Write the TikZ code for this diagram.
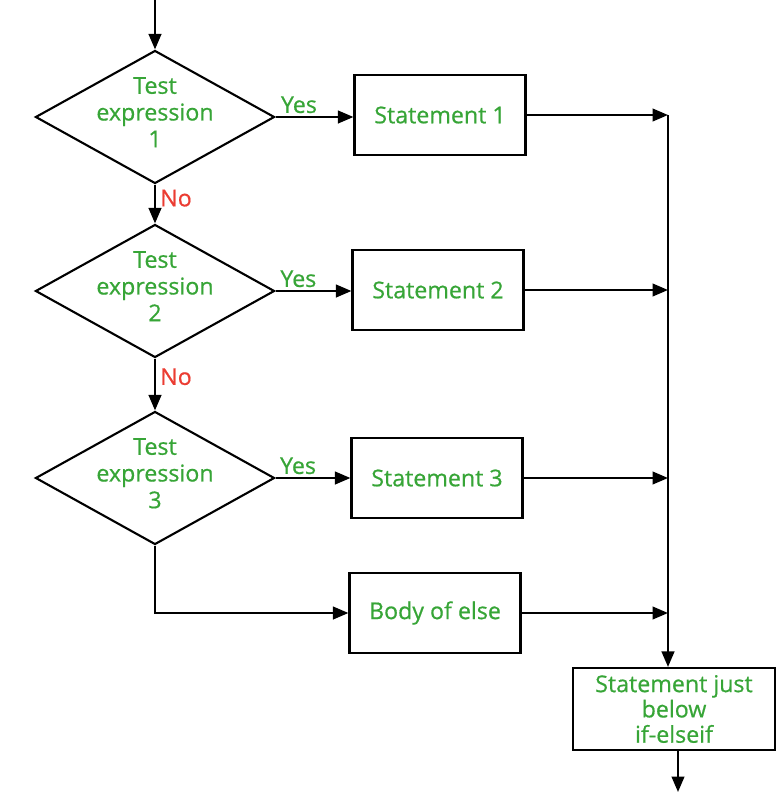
\documentclass[tikz,border=0pt]{standalone}
\usepackage{fontspec}
\setmainfont{Open Sans}[FakeBold=0.6]
\usepackage{tikz}
\usetikzlibrary{shapes.geometric, arrows.meta, positioning}

\definecolor{txtgreen}{RGB}{55,165,55}
\definecolor{txtred}{RGB}{235,60,50}

\newcommand{\dtext}[1]{\smash{\raisebox{-3pt}{\begin{tabular}{@{}c@{}}Test\\expression\\#1\end{tabular}}}}

\begin{document}
\begin{tikzpicture}[x=0.025cm, y=-0.025cm, font=\fontsize{16.5}{19}\selectfont]

        % Define styles
        \tikzstyle{decision} = [diamond, draw, line width=1.5pt, text=txtgreen, inner sep=0pt, minimum width=5.975cm, minimum height=3.325cm]
        \tikzstyle{block} = [rectangle, draw, line width=1.5pt, text=txtgreen, align=center, minimum width=4.275cm, minimum height=2cm]
        \tikzstyle{line} = [draw, line width=1.5pt, -{Triangle[length=11pt, width=9pt]}]
        \tikzstyle{yes} = [text=txtgreen, above, inner sep=2pt]
        \tikzstyle{no} = [text=txtred, right, inner sep=3pt]

        \useasboundingbox (0,0) rectangle (783,796);

        % Place nodes
        \coordinate (start) at (155,0);
        \node [decision] (test1) at (155,117) {\dtext{1}};
        \node [decision] (test2) at (155,291) {\dtext{2}};
        \node [decision] (test3) at (155,478) {\dtext{3}};
        \node [block] (stmt1) at (440,115) {Statement 1};
        \node [block] (stmt2) at (438,290) {Statement 2};
        \node [block] (stmt3) at (437,478) {Statement 3};
        \node [block] (body) at (435,613) {Body of else};
        \coordinate (merge) at (668,115);
        \node [block, minimum width=5.05cm, minimum height=2.05cm, font=\fontsize{16.5}{18}\selectfont] (after) at (674,709) {Statement just\\below\\if-elseif};
        \coordinate (stop) at (678,792);

        % Draw edges
        \path [line] (start) -- (test1.north);
        \path [line] (test1.south) -- node[no, pos=0.35] (no1) {No} (test2.north);
        \path [line] (test2.south) -- node[no, pos=0.35] (no2) {No} (test3.north);
        \path [line] (test1.east) -- node[yes, pos=0.3] (yes1) {Yes} (test1.east -| stmt1.west);
        \path [line] (test2.east) -- node[yes, pos=0.3] (yes2) {Yes} (test2.east -| stmt2.west);
        \path [line] (test3.east) -- node[yes, pos=0.3] (yes3) {Yes} (test3.east -| stmt3.west);
        \path [line] (test3.south) |- (body.west);

        % Merge connections
        \path [line] (stmt1.east) -- (stmt1.east -| merge);
        \path [line] (stmt2.east) -- (stmt2.east -| merge);
        \path [line] (stmt3.east) -- (stmt3.east -| merge);
        \path [line] (body.east) -- (body.east -| merge);
        \path [line] (merge) -- (merge |- after.north);
        \path [line] (after.south -| stop) -- (stop);

    \end{tikzpicture}
\end{document}
